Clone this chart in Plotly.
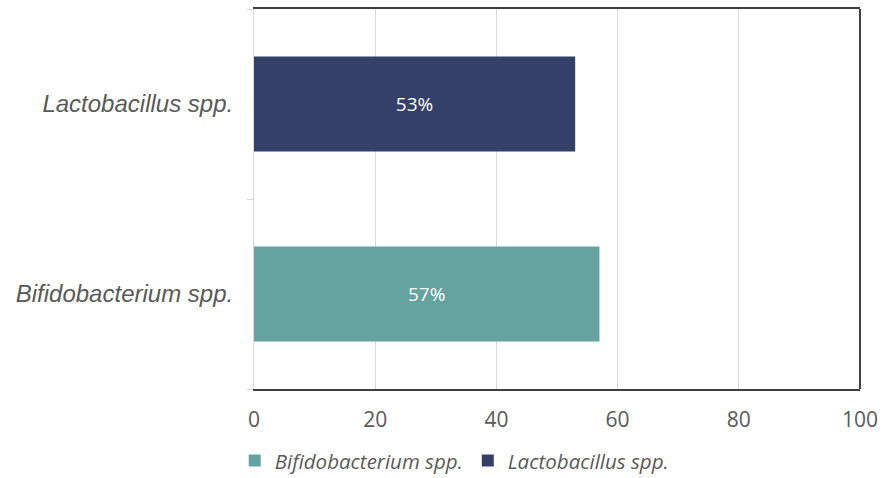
import plotly.graph_objects as go

categories = ["Bifidobacterium spp.", "Lactobacillus spp."]
values = [57, 53]
labels = ["57%", "53%"]
colors = ["#64a39f", "#344068"]
x_ticks = [0, 20, 40, 60, 80, 100]

fig = go.Figure()
for cat, val, lab, col in zip(categories, values, labels, colors):
    fig.add_trace(go.Bar(
        y=[cat], x=[val], orientation="h", name=cat,
        marker=dict(color=col, line=dict(width=0)),
        text=[lab], textposition="inside", insidetextanchor="middle",
        textfont=dict(color="white", size=19, family="Open Sans"),
        hoverinfo="skip",
    ))

fig.update_layout(
    width=882, height=478,
    margin=dict(l=254, r=22, t=9, b=89, autoexpand=False),
    paper_bgcolor="white", plot_bgcolor="white",
    barmode="overlay", bargap=0.5,
    showlegend=True,
    legend=dict(orientation="h", xref="container", yref="container",
                x=0.515, xanchor="center", y=0.036, yanchor="middle",
                font=dict(family="Open Sans", size=20.5, color="#595959", style="italic"),
                traceorder="normal", itemwidth=30),
    xaxis=dict(range=[0, 100], tickvals=x_ticks, showgrid=True, gridcolor="#d9d9d9",
               gridwidth=1, showline=True, linecolor="#404040", linewidth=2, mirror=True,
               ticks="", zeroline=False, automargin=False, ticklabelstandoff=11,
               tickfont=dict(family="Open Sans", size=21, color="#595959")),
    yaxis=dict(categoryorder="array", categoryarray=categories, showline=True,
               linecolor="#d9d9d9", linewidth=1, ticks="outside", tickson="boundaries",
               ticklen=6, tickcolor="#d9d9d9", showgrid=False, automargin=False,
               ticklabelstandoff=15,
               tickfont=dict(family="Liberation Sans", size=24, color="#595959", style="italic")),
)
fig.add_shape(type="line", xref="paper", yref="paper", x0=1, x1=1, y0=0, y1=1,
              line=dict(color="#404040", width=2))
fig.write_html("out.html")
